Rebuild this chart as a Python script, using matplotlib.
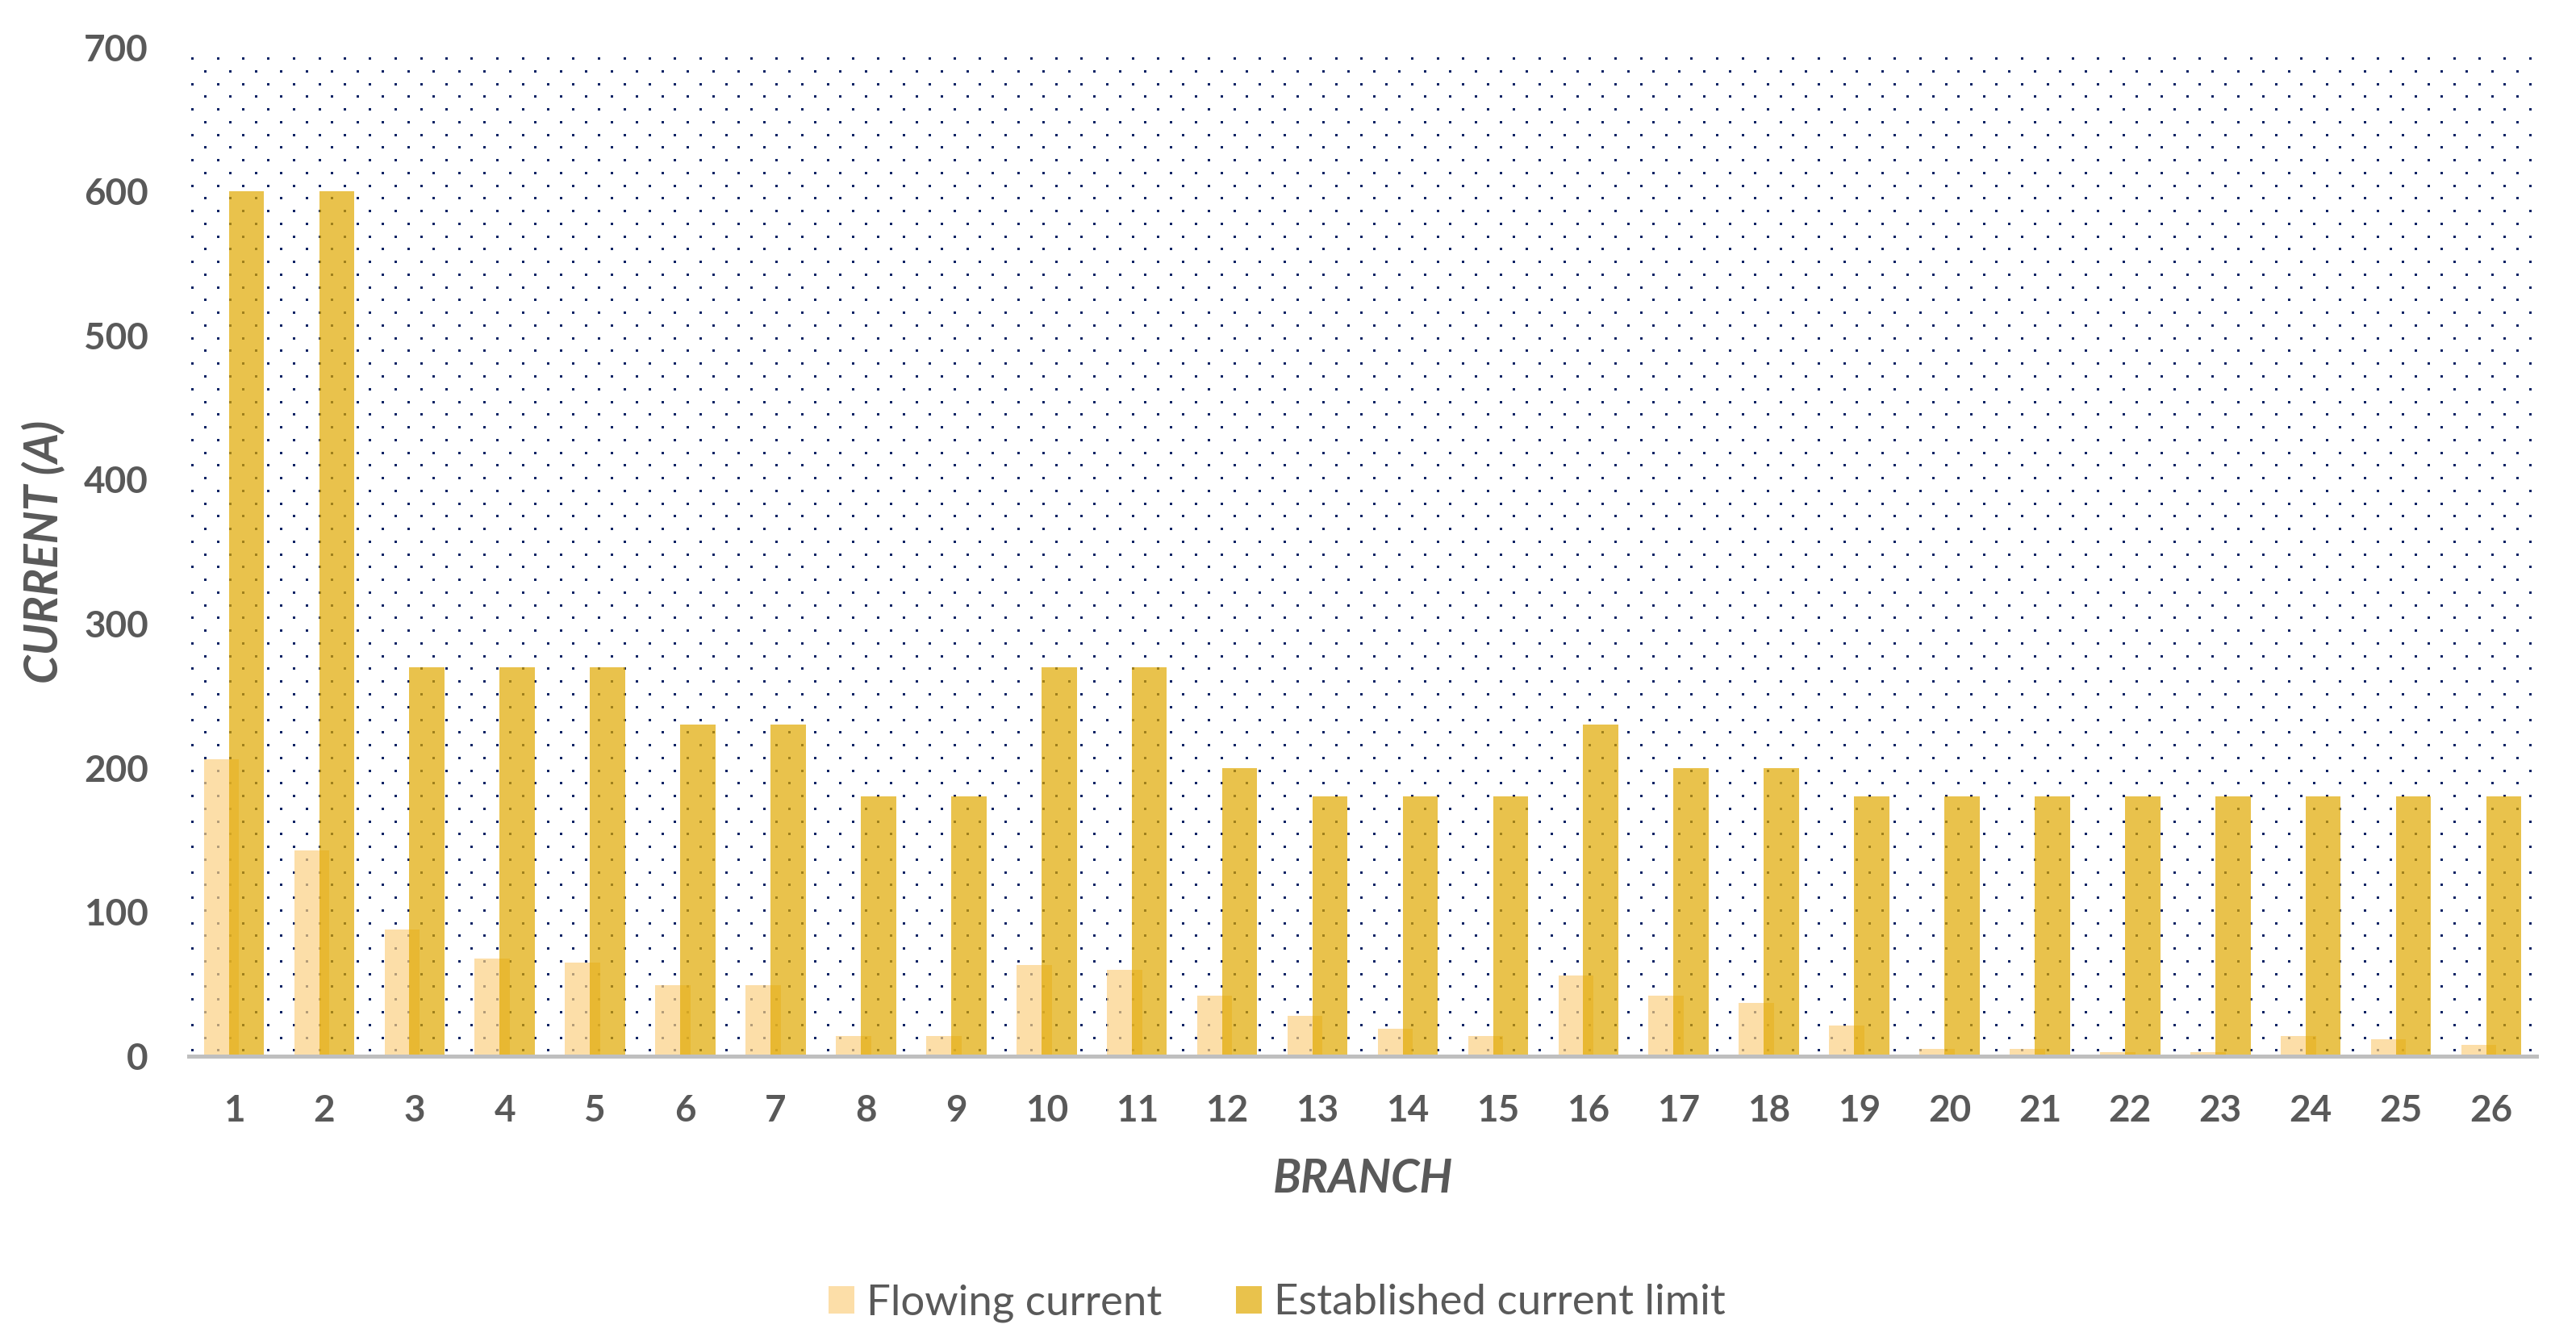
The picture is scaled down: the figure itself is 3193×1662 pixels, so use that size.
import numpy as np
import matplotlib
matplotlib.use("Agg")
import matplotlib.pyplot as plt

# --- données ---
branches = [str(i) for i in range(1, 27)]
flowing = [206, 143, 88, 68, 65, 49, 49, 14, 14, 63, 60, 42, 28,
           19, 14, 56, 42, 37, 21, 5, 5, 3, 3, 14, 12, 8]
limits = [600, 600, 270, 270, 270, 230, 230, 180, 180, 270, 270, 200, 180,
          180, 180, 230, 200, 200, 180, 180, 180, 180, 180, 180, 180, 180]
yticks = [0, 100, 200, 300, 400, 500, 600, 700]

W_PX, H_PX = 3193, 1662
GREY = "#595959"
FONT = "Lato"

fig = plt.figure(figsize=(W_PX / 100, H_PX / 100), dpi=100)

# zone de tracé en pixels (gauche, droite, haut=700, bas=0)
x0, x1, ytop, ybot = 234, 3144, 58.5, 1309
ax = fig.add_axes([x0 / W_PX, 1 - ybot / H_PX, (x1 - x0) / W_PX, (ybot - ytop) / H_PX])
ax.patch.set_visible(False)

# --- fond pointillé (motif Excel) ---
img = np.zeros((H_PX, W_PX, 4), dtype=np.uint8)
navy = (10, 35, 100, 255)
step_x, step_y = 31.5, 15.76
r = 72.0
i = 0
while r <= 1304:
    c = 238.0 + (step_x / 2 if i % 2 else 0)
    while c <= 3140:
        ri, ci = int(round(r)), int(round(c))
        img[ri - 1:ri + 2, ci - 1:ci + 2] = navy
        c += step_x
    r += step_y
    i += 1
fig.figimage(img, 0, 0, origin="upper", zorder=-1)

# --- barres ---
x = np.arange(len(branches))
w = 0.39
off = 0.138
ax.bar(x - off, flowing, width=w, color="#FCD183", alpha=0.7, zorder=2,
       label="Flowing current")
ax.bar(x + off, limits, width=w, color="#E0A800", alpha=0.7, zorder=3,
       label="Established current limit")

ax.set_xlim(-0.5, len(branches) - 0.5)
ax.set_ylim(0, 700)
ax.set_xticks(x)
ax.set_xticklabels(branches)
ax.set_yticks(yticks)

for s in ("top", "right", "left"):
    ax.spines[s].set_visible(False)
ax.spines["bottom"].set_color("#BFBFBF")
ax.spines["bottom"].set_linewidth(3.6)
ax.spines["bottom"].set_zorder(5)
ax.tick_params(length=0, labelcolor=GREY, labelsize=33)
ax.tick_params(axis="y", pad=36)
ax.tick_params(axis="x", pad=34)
for t in ax.get_xticklabels() + ax.get_yticklabels():
    t.set_fontfamily(FONT)
    t.set_fontweight("bold")

fig.text(1689 / W_PX, 1 - 1462 / H_PX, "BRANCH", ha="center", va="center",
         fontsize=41, fontweight="bold", fontstyle="italic", color=GREY, family=FONT)
fig.text(55 / W_PX, 1 - 684 / H_PX, "CURRENT (A)", ha="center", va="center",
         rotation=90, fontsize=41, fontweight="bold", fontstyle="italic",
         color=GREY, family=FONT)

leg = ax.legend(loc="center", bbox_to_anchor=(1583 / W_PX, 1 - 1615 / H_PX),
                bbox_transform=fig.transFigure, ncol=2, frameon=False,
                prop={"family": FONT, "size": 38}, handlelength=0.6,
                handleheight=0.62, handletextpad=0.28, columnspacing=1.75)
for t in leg.get_texts():
    t.set_color(GREY)

fig.savefig("out.png", dpi=100)
